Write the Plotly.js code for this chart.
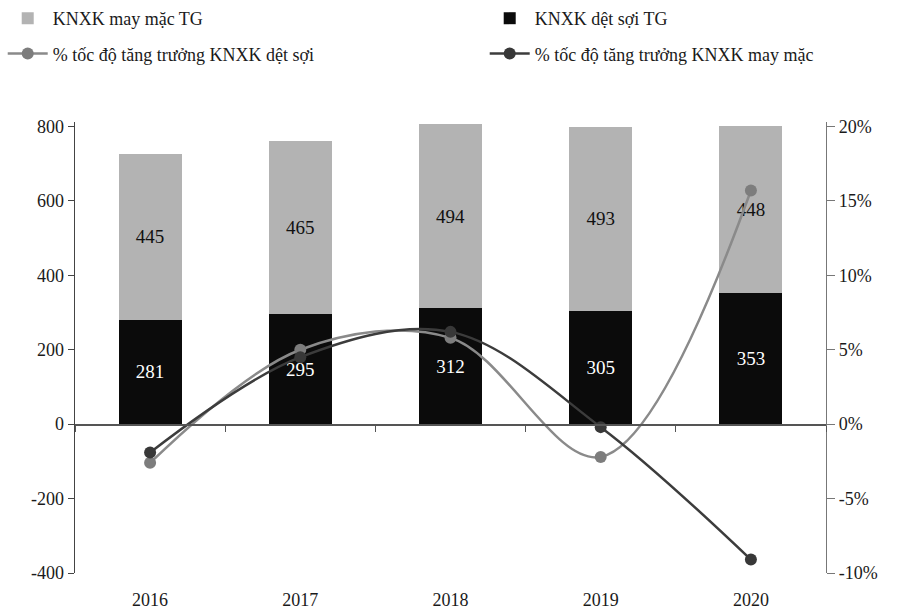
<!DOCTYPE html>
<html><head><meta charset="utf-8">
<script src="https://cdn.plot.ly/plotly-3.0.1.min.js"></script>
<style>body{margin:0;background:#fff}#chart{width:906px;height:615px}</style>
</head><body><div id="chart"></div>
<script>
const years = ['2016','2017','2018','2019','2020'];
const detSoi = [281, 295, 312, 305, 353];
const mayMac = [445, 465, 494, 493, 448];
const growthDetSoi = [-2.6, 5.0, 5.8, -2.2, 15.7];
const growthMayMac = [-1.9, 4.5, 6.2, -0.2, -9.1];
const leftTicks = [-400, -200, 0, 200, 400, 600, 800];
const leftTickText = ['-400', '-200', '0', '200', '400', '600', '800'];
const rightTicks = [-10, -5, 0, 5, 10, 15, 20];
const rightTickText = ['-10%', '-5%', '0%', '5%', '10%', '15%', '20%'];

const serif = 'Liberation Serif, Times New Roman, serif';

const traces = [
  {type:'bar', name:'KNXK dệt sợi TG', x:years, y:detSoi, xaxis:'x', yaxis:'y',
   marker:{color:'#0b0b0b'}, text:detSoi.map(String), textposition:'inside', insidetextanchor:'middle',
   textfont:{family:serif,size:19,color:'#ffffff'}, legend:'legend2', legendgroup:'b', legendrank:1, width:0.42},
  {type:'bar', name:'KNXK may mặc TG', x:years, y:mayMac, xaxis:'x', yaxis:'y',
   marker:{color:'#b3b3b3'}, text:mayMac.map(String), textposition:'inside', insidetextanchor:'middle',
   textfont:{family:serif,size:19,color:'#111111'}, legend:'legend', legendgroup:'a', legendrank:1, width:0.42},
  {type:'scatter', mode:'lines+markers', name:'% tốc độ tăng trưởng KNXK dệt sợi', x:years, y:growthDetSoi,
   xaxis:'x2', yaxis:'y2', line:{shape:'spline', color:'#8a8a8a', width:2.5},
   marker:{color:'#7d7d7d', size:12}, legend:'legend', legendgroup:'c', legendrank:2},
  {type:'scatter', mode:'lines+markers', name:'% tốc độ tăng trưởng KNXK may mặc', x:years, y:growthMayMac,
   xaxis:'x2', yaxis:'y2', line:{shape:'spline', color:'#3c3c3c', width:2.5},
   marker:{color:'#383838', size:12}, legend:'legend2', legendgroup:'d', legendrank:2}
];

const legendBase = {orientation:'v', xref:'container', yref:'container', y:1.0, yanchor:'top', xanchor:'left',
  traceorder:'grouped', tracegroupgap:9, itemwidth:40,
  font:{family:serif, size:18, color:'#1a1a1a'}, bgcolor:'rgba(0,0,0,0)'};

const layout = {
  width:906, height:615,
  margin:{l:75, r:80, t:122, b:42, autoexpand:false},
  paper_bgcolor:'#ffffff', plot_bgcolor:'rgba(0,0,0,0)',
  barmode:'stack',
  font:{family:serif, size:18, color:'#1a1a1a'},
  showlegend:true,
  legend:Object.assign({}, legendBase, {x:0.003}),
  legend2:Object.assign({}, legendBase, {x:0.535}),
  xaxis:{type:'category', anchor:'free', position:400/1212, showline:true, linecolor:'#555', linewidth:1.5,
         ticks:'outside', tickson:'boundaries', ticklen:6, tickcolor:'#555', showticklabels:false,
         showgrid:false, zeroline:false},
  xaxis2:{type:'category', overlaying:'x', matches:'x', anchor:'y', side:'bottom', showline:false, showgrid:false,
          ticks:'', showticklabels:true, ticklabelstandoff:14,
          tickfont:{family:serif, size:18, color:'#1a1a1a'}},
  yaxis:{range:[-400,812], tickmode:'array', tickvals:leftTicks, ticktext:leftTickText,
         showline:true, linecolor:'#444', linewidth:1.5,
         ticks:'outside', ticklen:6, tickcolor:'#444', showgrid:false, zeroline:false,
         tickfont:{family:serif, size:18, color:'#1a1a1a'}},
  yaxis2:{range:[-10,20.3], tickmode:'array', tickvals:rightTicks, ticktext:rightTickText,
          overlaying:'y', side:'right', anchor:'x2',
          showline:true, linecolor:'#777', linewidth:1.2, ticks:'outside', ticklen:8, tickcolor:'#777',
          showgrid:false, zeroline:false, tickfont:{family:serif, size:18, color:'#1a1a1a'}}
};

Plotly.newPlot('chart', traces, layout, {displayModeBar:false, staticPlot:true});
</script>
</body></html>
